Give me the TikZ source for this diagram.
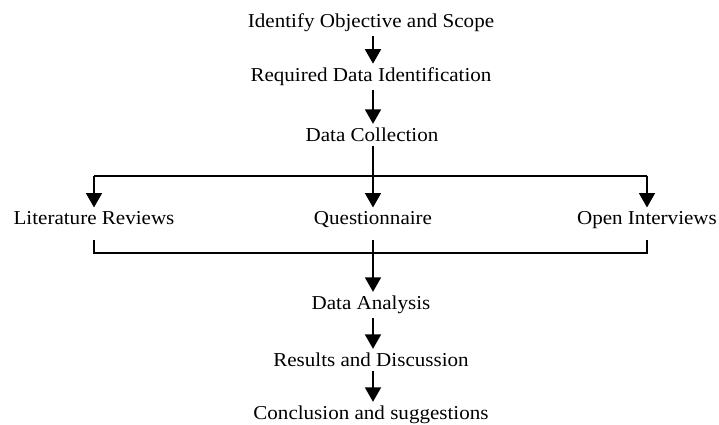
\documentclass[tikz,border=0pt]{standalone}
\usepackage{fontspec}
\setmainfont[FakeStretch=1.07]{Liberation Serif}
\usetikzlibrary{arrows.meta,positioning}

\begin{document}
\begin{tikzpicture}[x=0.025cm,y=-0.025cm,
        stage/.style={font=\fontsize{14}{16}\selectfont, inner sep=0pt, anchor=base},
        flow/.style={line width=1.1pt, -{Triangle[width=0.4cm,length=0.36cm]},
                     shorten <=2.5pt, shorten >=3pt},
        link/.style={line width=1.1pt}]
    \useasboundingbox (0,0) rectangle (719,425);

    % stages of the study
    \node[stage] (objective)  at (371,28)  {Identify Objective and Scope};
    \node[stage] (required)   at (371,82)  {Required Data Identification};
    \node[stage] (collection) at (372,142) {Data Collection};
    \node[stage] (literature) at (94,225)  {Literature Reviews};
    \node[stage] (question)   at (373,225) {Questionnaire};
    \node[stage] (interview)  at (647,225) {Open Interviews};
    \node[stage] (analysis)   at (371,310) {Data Analysis};
    \node[stage] (results)    at (371,367) {Results and Discussion};
    \node[stage] (conclusion) at (371,420) {Conclusion and suggestions};

    % split and merge lines
    \coordinate (split) at (373,176);
    \coordinate (merge) at (373,253);

    % arrows down the main line
    \draw[flow] (objective.south -| split) -- (required.north -| split);
    \draw[flow] (required.south -| split) -- (collection.north -| split);
    \draw[flow] (collection.south -| split) -- (question.north -| split);

    % split to the three sources
    \draw[link] (literature |- split) -- (interview |- split);
    \draw[flow, shorten <=0pt] (literature |- split) -- (literature);
    \draw[flow, shorten <=0pt] (interview |- split) -- (interview);

    % merge back
    \draw[link] ([yshift=-11pt]literature.base) -- (literature |- merge)
        -- (interview |- merge) -- ([yshift=-11pt]interview.base);
    \draw[flow, shorten <=0pt] ([yshift=-11pt]question.base) -- (analysis.north -| merge);
    \draw[flow] (analysis.south -| merge) -- (results.north -| merge);
    \draw[flow] (results.south -| merge) -- (conclusion.north -| merge);
\end{tikzpicture}
\end{document}
